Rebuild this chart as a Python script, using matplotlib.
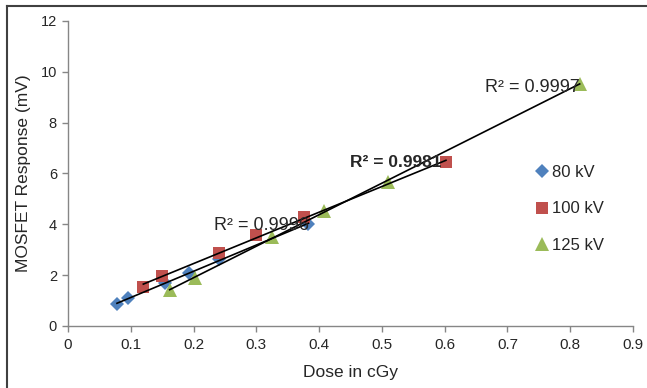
import matplotlib
matplotlib.use("Agg")
import matplotlib.pyplot as plt
import numpy as np
from matplotlib.lines import Line2D

plt.rcParams['font.family'] = ['Liberation Sans', 'DejaVu Sans']

# dose (cGy) vs MOSFET response (mV)
dose_80 = [0.078, 0.096, 0.155, 0.192, 0.241, 0.383]
resp_80 = [0.87, 1.09, 1.68, 2.07, 2.62, 4.02]

dose_100 = [0.120, 0.150, 0.240, 0.300, 0.376, 0.602]
resp_100 = [1.52, 1.98, 2.86, 3.58, 4.30, 6.44]

dose_125 = [0.162, 0.202, 0.325, 0.407, 0.509, 0.815]
resp_125 = [1.42, 1.88, 3.50, 4.52, 5.68, 9.52]

series = [
    ("80 kV", dose_80, resp_80, "D", "#4F81BD", 7.5),
    ("100 kV", dose_100, resp_100, "s", "#C0504D", 9),
    ("125 kV", dose_125, resp_125, "^", "#9BBB59", 9.5),
]

r2_labels = ["R² = 0.9996", "R² = 0.9981", "R² = 0.9997"]
r2_pos = [(0.2326, 3.78), (0.449, 6.25), (0.6645, 9.2)]
r2_weight = ["normal", "bold", "normal"]
r2_size = [13, 12.5, 13]

fig = plt.figure(figsize=(6.47, 3.88), dpi=100)
ax = fig.add_axes([0.1051, 0.1598, 0.8733, 0.7861])

for name, x, y, mk, col, ms in series:
    ax.plot(x, y, linestyle="none", marker=mk, color=col, markersize=ms,
            markeredgewidth=0, label=name, zorder=3)

for name, x, y, mk, col, ms in series:
    k, b = np.polyfit(x, y, 1)
    xs = np.array([min(x), max(x)])
    ax.plot(xs, k * xs + b, color="black", lw=1.2, zorder=4)

for txt, (tx, ty), w, fs in zip(r2_labels, r2_pos, r2_weight, r2_size):
    ax.text(tx, ty, txt, ha="left", va="baseline", fontsize=fs,
            color="#262626", fontweight=w, zorder=5)

ax.set_xlim(0, 0.9)
ax.set_ylim(0, 12)
ax.set_xticks(np.arange(0, 0.91, 0.1))
ax.set_xticklabels(["0", "0.1", "0.2", "0.3", "0.4", "0.5", "0.6", "0.7", "0.8", "0.9"])
ax.set_yticks(range(0, 13, 2))

for s in ["top", "right"]:
    ax.spines[s].set_visible(False)
for s in ["left", "bottom"]:
    ax.spines[s].set_color("#868686")
    ax.spines[s].set_linewidth(1.0)
ax.tick_params(axis="both", direction="out", length=4, color="#868686",
               labelcolor="#262626", width=1.0)
ax.tick_params(axis="x", labelsize=11, pad=5)
ax.tick_params(axis="y", labelsize=10.5, pad=4)

ax.set_xlabel("Dose in cGy", fontsize=12.5, color="#262626", labelpad=9)
ax.set_ylabel("MOSFET Response (mV)", fontsize=12.5, color="#262626", labelpad=7)

ax.legend(loc="upper left", bbox_to_anchor=(0.812, 0.556), frameon=False,
          fontsize=12, labelspacing=1.3, handlelength=0.8, handletextpad=0.2,
          borderpad=0, labelcolor="#262626")

# outer frame (only left and top edges visible in the reference)
fig.add_artist(Line2D([7 / 647, 7 / 647], [0, 1 - 6 / 388], transform=fig.transFigure,
                      color="#404040", lw=1.5))
fig.add_artist(Line2D([7 / 647, 1], [1 - 6 / 388, 1 - 6 / 388], transform=fig.transFigure,
                      color="#404040", lw=1.5))

fig.savefig("out.png", dpi=100)
